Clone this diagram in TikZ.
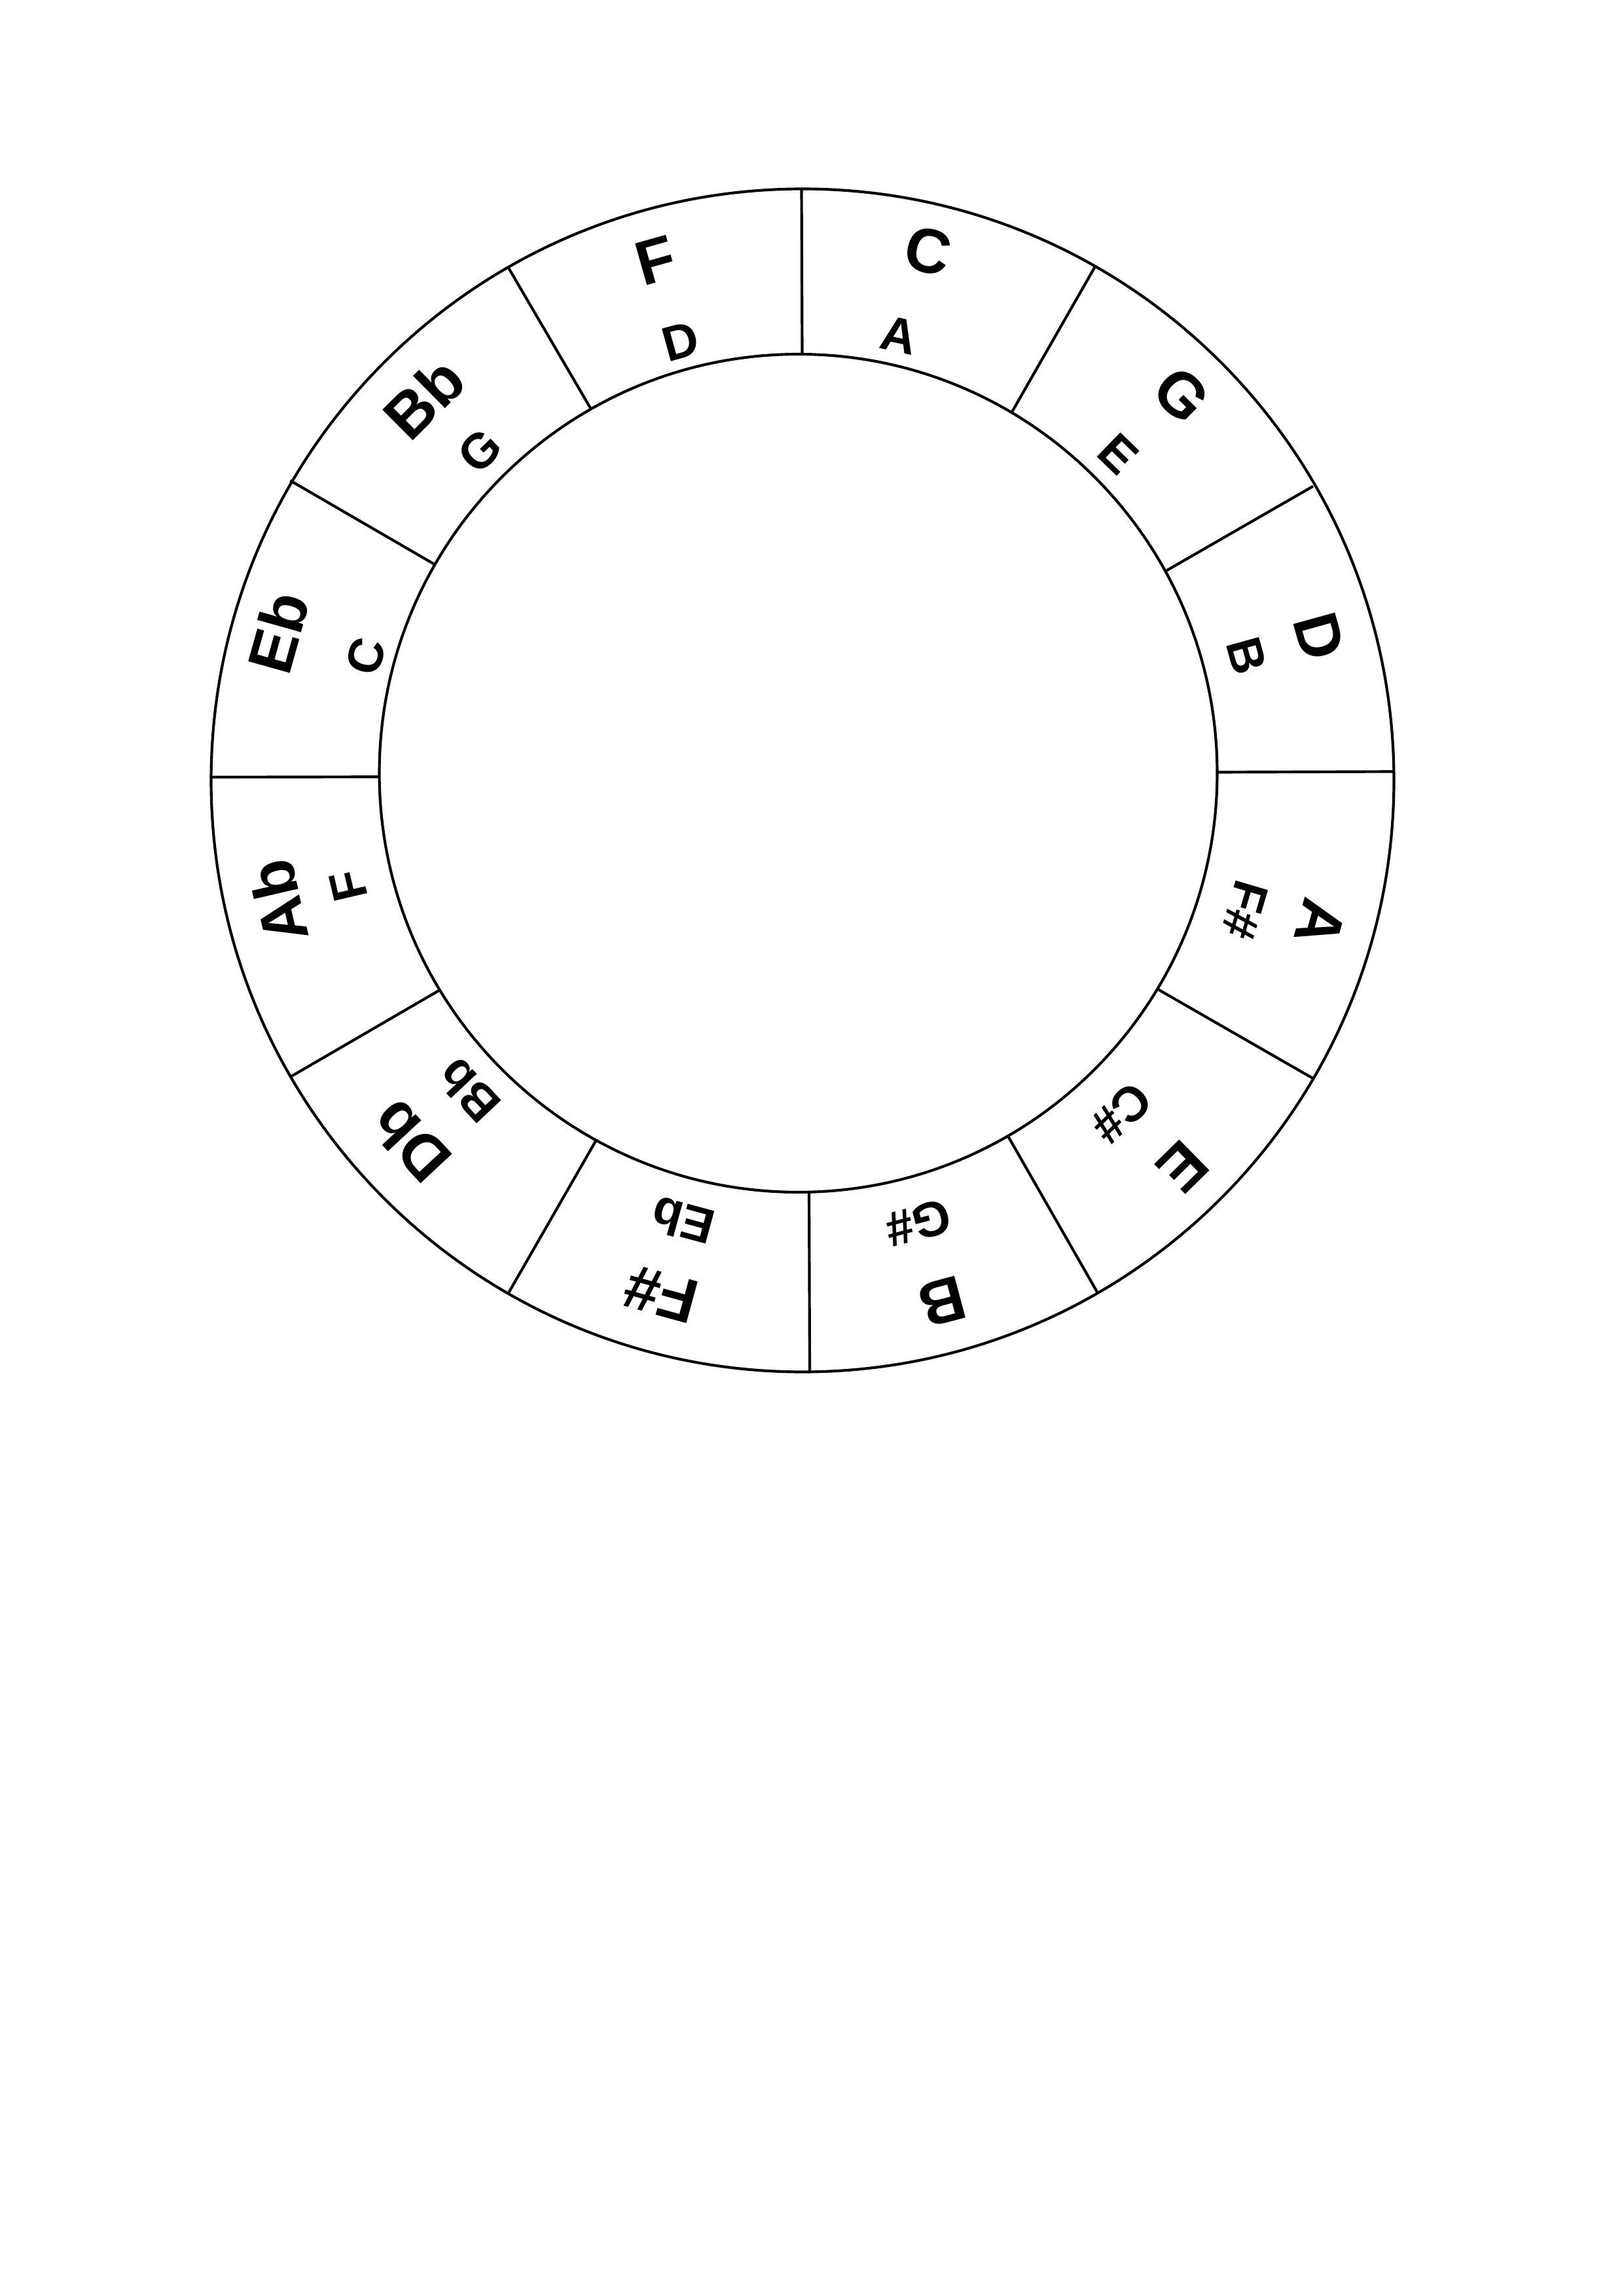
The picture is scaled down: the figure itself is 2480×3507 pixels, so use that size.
\documentclass[tikz,border=0pt]{standalone}
\usepackage{fontspec}
\setmainfont{Liberation Sans}
\begin{document}
\begin{tikzpicture}[x=0.24pt,y=-0.24pt,
  ring/.style={line width=1pt,draw=black},
  major/.style={inner sep=0pt,anchor=center,font=\fontsize{23}{23}\selectfont\bfseries},
  minor/.style={inner sep=0pt,anchor=center,font=\fontsize{18}{18}\selectfont\bfseries}]
\fill[white] (0,0) rectangle (2480,3507);
\useasboundingbox (0,0) rectangle (2480,3507);
% circles
\coordinate (co) at (1226,1192);
\coordinate (ci) at (1219.5,1181);
\draw[ring] (co) circle [radius=216.84pt];
\draw[ring] (ci) circle [radius=153.6pt];
% dividers (inner end / outer end)
\foreach \k/\xa/\ya/\xb/\yb in {
  0/1225.5/542/1224.5/289,
  1/1545.5/630/1672.8/407.5,
  2/1781.7/871.7/2006/742.7,
  3/1860/1179.5/2130/1178.5,
  4/1770/1511.7/2005/1646.7,
  5/1540.7/1736.7/1676/1973.3,
  6/1236/1820/1237/2095,
  7/910.5/1742/776.5/1975.5,
  8/670.5/1513/442.5/1645.5,
  9/579/1186.5/322/1187,
  10/663.3/861.7/443.3/734,
  11/902.5/624.2/776.5/408.5}{
  \coordinate (in\k) at (\xa,\ya);
  \coordinate (out\k) at (\xb,\yb);
  \draw[ring] (in\k) -- (out\k);
}
% major keys
\node[major,rotate=-13.4] (kC) at (1418,383) {C};
\node[major,rotate=-44.6] (kG) at (1805,603) {G};
\node[major,rotate=-74.5] (kD) at (2015,972) {D};
\node[major,rotate=-105.5] (kA) at (2017,1410) {A};
\node[major,rotate=-135.5] (kE) at (1807,1782) {E};
\node[major,rotate=-165] (kB) at (1440,1988) {B};
\node[major,rotate=-195.3] (kFs) at (1010,1977) {F\#};
\node[major,rotate=-227] (kDb) at (627,1744) {Db};
\node[major,rotate=-256.9] (kAb) at (425,1377) {Ab};
\node[major,rotate=-285.6] (kEb) at (425,966) {Eb};
\node[major,rotate=-315.2] (kBb) at (648,608) {Bb};
\node[major,rotate=-344.2] (kF) at (1002,398) {F};
% minor keys
\node[minor,rotate=-12.2] (mA) at (1373,512) {A};
\node[minor,rotate=-44.1] (mE) at (1708,693) {E};
\node[minor,rotate=-74.5] (mB) at (1905,1002) {B};
\node[minor,rotate=-106.5] (mFs) at (1902,1390) {F\#};
\node[minor,rotate=-136.3] (mCs) at (1713,1700) {C\#};
\node[minor,rotate=-165.4] (mGs) at (1403,1868) {G\#};
\node[minor,rotate=-195.2] (mEb) at (1043,1865) {Eb};
\node[minor,rotate=-226.7] (mBb) at (716,1666) {Bb};
\node[minor,rotate=-256.8] (mF) at (532,1353) {F};
\node[minor,rotate=-285.7] (mC) at (559,1002) {C};
\node[minor,rotate=-315.5] (mG) at (733,689) {G};
\node[minor,rotate=-344.5] (mD) at (1040,521) {D};
\end{tikzpicture}
\end{document}
